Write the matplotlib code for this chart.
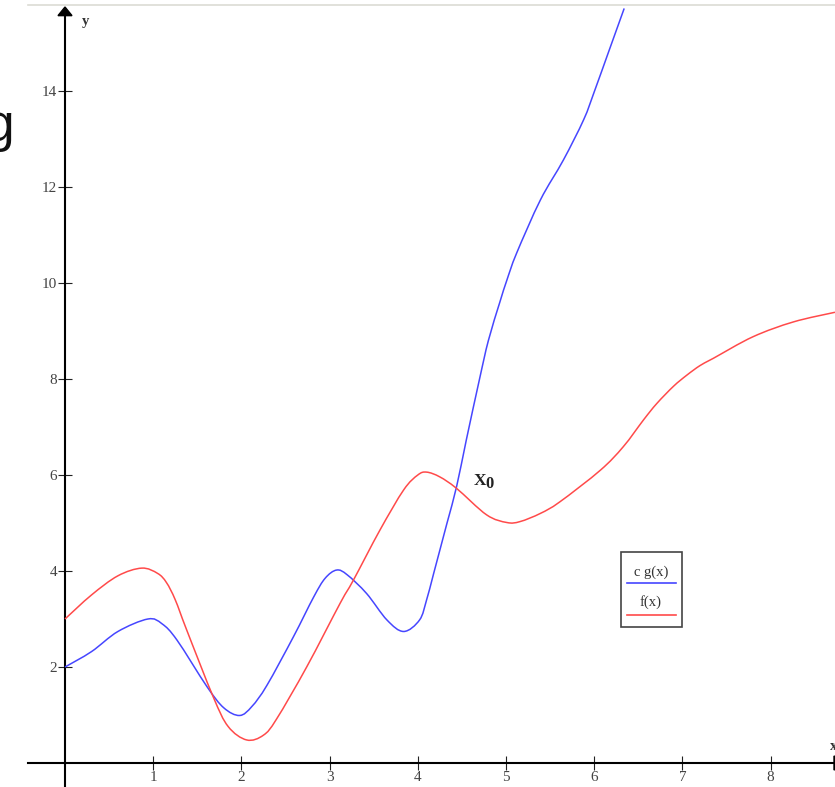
import matplotlib
matplotlib.use("Agg")
import matplotlib.pyplot as plt
from matplotlib.patches import Polygon, Rectangle, PathPatch
from matplotlib.path import Path
from matplotlib.lines import Line2D

# ---- data ----
f_x = [0.0, 0.3, 0.6, 0.87, 1.05, 1.15, 1.25, 1.38, 1.68, 1.85, 2.06, 2.25, 2.40, 2.74,
       3.12, 3.27, 3.57, 3.84, 4.0, 4.10, 4.25, 4.44, 4.78, 5.01, 5.16, 5.39,
       5.61, 6.07, 6.33, 6.56, 6.71, 6.9, 7.05, 7.2, 7.35, 7.80, 8.26, 8.73]
f_y = [3.0, 3.5, 3.9, 4.06, 3.95, 3.76, 3.4, 2.77, 1.38, 0.76, 0.48, 0.58, 0.92, 2.0,
       3.33, 3.81, 4.85, 5.69, 6.0, 6.06, 5.96, 5.72, 5.17, 5.01, 5.03, 5.2,
       5.44, 6.1, 6.59, 7.15, 7.49, 7.85, 8.08, 8.28, 8.43, 8.88, 9.19, 9.39]

g_x = [0.0, 0.3, 0.6, 0.94, 1.1, 1.27, 1.61, 1.8, 1.98, 2.12, 2.29, 2.59, 2.82,
       2.95, 3.08, 3.2, 3.42, 3.65, 3.84, 4.02, 4.1, 4.18, 4.33, 4.44, 4.55, 4.7,
       4.8, 4.93, 5.01, 5.12, 5.39, 5.65, 5.88, 6.0, 6.17, 6.34]
g_y = [2.0, 2.32, 2.74, 3.0, 2.9, 2.56, 1.59, 1.15, 0.99, 1.18, 1.62, 2.63, 3.46,
       3.85, 4.02, 3.92, 3.53, 2.98, 2.74, 2.98, 3.4, 3.95, 4.99, 5.76, 6.73, 8.0,
       8.8, 9.6, 10.06, 10.62, 11.73, 12.56, 13.4, 13.98, 14.85, 15.72]

x_ticks = [1, 2, 3, 4, 5, 6, 7, 8]
y_ticks = [2, 4, 6, 8, 10, 12, 14]
legend_labels = ["c g(x)", "f(x)"]
blue = "#4646ff"
red = "#ff4a4a"

W, H = 835, 787
fig = plt.figure(figsize=(W / 100, H / 100), dpi=100)
ax = fig.add_axes([0, 0, 1, 1])

PXX = 88.2   # px per x unit
PXY = 48.0   # px per y unit
X0, Y0 = 65, 763
ax.set_xlim(-X0 / PXX, (W - X0) / PXX)
ax.set_ylim(-(H - Y0) / PXY, Y0 / PXY)

def px(x, y):
    return (x / W, 1 - y / H)

serif = "Liberation Serif"


def smooth_path(xs, ys):
    """Catmull-Rom curve through the read points, drawn as cubic Beziers."""
    pts = list(zip(xs, ys))
    n = len(pts)
    verts = [pts[0]]
    codes = [Path.MOVETO]
    for i in range(n - 1):
        p0 = pts[i - 1] if i > 0 else pts[i]
        p1 = pts[i]
        p2 = pts[i + 1]
        p3 = pts[i + 2] if i + 2 < n else pts[i + 1]
        c1 = (p1[0] + (p2[0] - p0[0]) / 6, p1[1] + (p2[1] - p0[1]) / 6)
        c2 = (p2[0] - (p3[0] - p1[0]) / 6, p2[1] - (p3[1] - p1[1]) / 6)
        verts += [c1, c2, p2]
        codes += [Path.CURVE4] * 3
    return Path(verts, codes)


ax.add_patch(PathPatch(smooth_path(g_x, g_y), facecolor="none", edgecolor=blue,
                       lw=1.1, zorder=3))
ax.add_patch(PathPatch(smooth_path(f_x, f_y), facecolor="none", edgecolor=red,
                       lw=1.1, zorder=3))

# axes through origin
for s in ["top", "right"]:
    ax.spines[s].set_visible(False)
ax.spines["left"].set_position(("data", 0))
ax.spines["bottom"].set_position(("data", 0))
ax.spines["left"].set_linewidth(1.5)
ax.spines["bottom"].set_linewidth(1.5)
ax.spines["left"].set_bounds(-0.5, 15.6)
ax.spines["bottom"].set_bounds(-37 / PXX, (W - X0) / PXX)

ax.set_xticks(x_ticks)
ax.set_xticklabels([str(v) for v in x_ticks])
ax.set_yticks(y_ticks)
ax.set_yticklabels([str(v) for v in y_ticks])
ax.tick_params(axis="both", direction="inout", length=10, width=0.8,
               colors="#222222", labelcolor="#444444", labelsize=11)
ax.tick_params(axis="x", pad=1.0)
ax.tick_params(axis="y", pad=0.5)
for lab in ax.get_xticklabels() + ax.get_yticklabels():
    lab.set_fontfamily(serif)

# arrow heads
ax.add_patch(Polygon([(0, 15.75), (-7 / PXX, 15.57), (7 / PXX, 15.57)],
                     closed=True, color="k", clip_on=False, zorder=5))
ax.add_patch(Polygon([((W - X0 - 1) / PXX, 7 / PXY), ((W - X0 - 1) / PXX, -7 / PXY),
                      ((W - X0 + 14) / PXX, 0)],
                     closed=True, color="k", clip_on=True, zorder=5))

# axis labels
fig.text(*px(86, 22), "y", fontfamily=serif, fontweight="bold", fontsize=10.5,
         color="#333333", ha="center", va="center")
fig.text(*px(834, 746), "x", fontfamily=serif, fontweight="bold", fontsize=10.5,
         color="#333333", ha="center", va="center")

# X0 annotation
fig.text(*px(480, 481), "X", fontfamily=serif, fontweight="bold", fontsize=12.5,
         color="#222222", ha="center", va="center")
fig.text(*px(490, 484), "0", fontfamily=serif, fontweight="bold", fontsize=12,
         color="#222222", ha="center", va="center")

# top grey line
fig.add_artist(Line2D([28 / W, 1], [1 - 5 / H, 1 - 5 / H], color="#dcdcd4", lw=1.2))

# cropped "g" at left
fig.text(14 / W, 1 - 141 / H, "g", fontfamily="Liberation Sans", fontsize=37,
         color="#111111", ha="right", va="baseline")

# legend box
fig.add_artist(Rectangle(px(621, 627), 61 / W, 75 / H, fill=False,
                         edgecolor="#444444", lw=1.2))
fig.text(*px(651, 572), legend_labels[0], fontfamily=serif, fontsize=10.5,
         color="#333333", ha="center", va="center")
fig.add_artist(Line2D([627 / W, 676 / W], [1 - 583 / H] * 2, color=blue, lw=1.2))
fig.text(*px(651, 602), legend_labels[1], fontfamily=serif, fontsize=10.5,
         color="#333333", ha="center", va="center")
fig.add_artist(Line2D([627 / W, 676 / W], [1 - 615 / H] * 2, color=red, lw=1.2))

fig.savefig("out.png", dpi=100)
